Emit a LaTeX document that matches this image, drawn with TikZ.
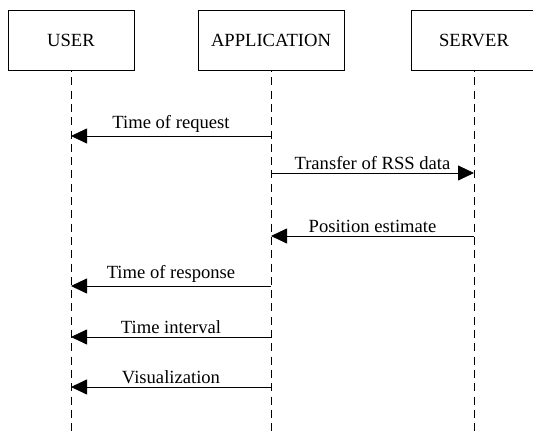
\documentclass[tikz,border=0pt]{standalone}
\usepackage{fontspec}
\setmainfont{Liberation Serif}
\usetikzlibrary{arrows.meta}

\tikzset{
    actor/.style={draw, fill=white, line width=0.8pt, minimum width=126pt, minimum height=60pt,
        inner xsep=13pt, font=\fontsize{18.6}{22}\selectfont},
    lifeline/.style={line width=0.8pt, dash pattern=on 8pt off 5.3pt, dash phase=-7pt},
    msg/.style={line width=0.8pt, -{Triangle[length=16pt,width=15pt]}},
    msglabel/.style={above, inner sep=3pt, font=\fontsize{18.6}{22}\selectfont}
}

\begin{document}
\begin{tikzpicture}[x=1pt, y=-1pt]
    \useasboundingbox (0,0) rectangle (533,435);

    % participants
    \node[actor] (user) at (71,40) {USER};
    \node[actor] (app) at (271,40) {APPLICATION};
    \node[actor] (server) at (474,40) {SERVER};

    % lifelines down to the bottom edge
    \foreach \p in {user, app, server} {
        \coordinate (\p-end) at (\p |- 0,435);
        \draw[lifeline] (\p.south) -- (\p-end);
    }

    % messages, top to bottom
    \foreach \y/\from/\to/\txt [count=\i] in {
        136/app/user/Time of request,
        173/app/server/Transfer of RSS data,
        236/server/app/Position estimate,
        286/app/user/Time of response,
        337/app/user/Time interval,
        387/app/user/Visualization} {
        \coordinate (m\i-a) at (\from |- 0,\y);
        \coordinate (m\i-b) at (\to |- 0,\y);
        \draw[msg] (m\i-a) -- node[msglabel] {\txt} (m\i-b);
    }
\end{tikzpicture}
\end{document}
